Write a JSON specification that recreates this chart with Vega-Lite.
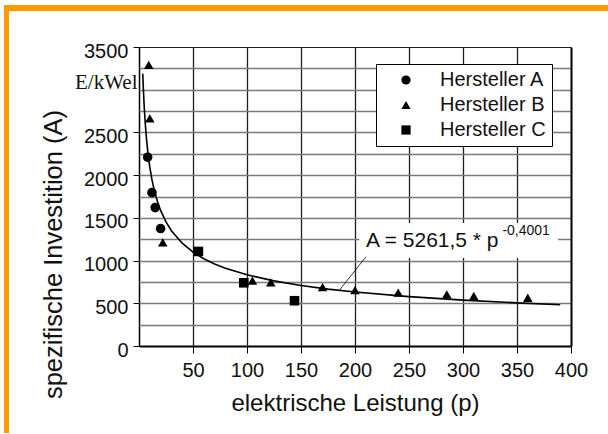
{
  "$schema": "https://vega.github.io/schema/vega-lite/v6.json",
  "padding": {"left": 4, "top": 5, "right": 0, "bottom": 0},
  "background": "white",
  "spacing": 0,
  "bounds": "flush",
  "config": {
    "view": {"stroke": null},
    "font": "Liberation Sans",
    "axis": {"labelFont": "Liberation Sans", "titleFont": "Liberation Sans", "labelColor": "#111", "titleColor": "#111", "titleFontWeight": "normal", "labelFlush": false, "labelOverlap": false, "labelBound": false, "tickColor": "#000", "domainColor": "#000", "grid": false},
    "legend": {"labelFont": "Liberation Sans"}
  },
  "datasets": {
    "punkte": [
      {"p": 8, "A": 2210, "h": "Hersteller A"},
      {"p": 12, "A": 1795, "h": "Hersteller A"},
      {"p": 15, "A": 1620, "h": "Hersteller A"},
      {"p": 20, "A": 1375, "h": "Hersteller A"},
      {"p": 9, "A": 3290, "h": "Hersteller B"},
      {"p": 10, "A": 2665, "h": "Hersteller B"},
      {"p": 22, "A": 1212, "h": "Hersteller B"},
      {"p": 105, "A": 765, "h": "Hersteller B"},
      {"p": 122, "A": 745, "h": "Hersteller B"},
      {"p": 170, "A": 690, "h": "Hersteller B"},
      {"p": 200, "A": 655, "h": "Hersteller B"},
      {"p": 240, "A": 624, "h": "Hersteller B"},
      {"p": 285, "A": 605, "h": "Hersteller B"},
      {"p": 310, "A": 585, "h": "Hersteller B"},
      {"p": 360, "A": 565, "h": "Hersteller B"},
      {"p": 55, "A": 1107, "h": "Hersteller C"},
      {"p": 97, "A": 740, "h": "Hersteller C"},
      {"p": 144, "A": 530, "h": "Hersteller C"}
    ],
    "kurve": [
      {"p": 3.5, "A": 3187}, {"p": 4, "A": 3022}, {"p": 4.5, "A": 2882}, {"p": 5, "A": 2763},
      {"p": 6, "A": 2569}, {"p": 7, "A": 2415}, {"p": 8, "A": 2290}, {"p": 9, "A": 2185},
      {"p": 10, "A": 2094}, {"p": 12, "A": 1947}, {"p": 14, "A": 1830}, {"p": 17, "A": 1694},
      {"p": 20, "A": 1587}, {"p": 25, "A": 1452}, {"p": 30, "A": 1350}, {"p": 40, "A": 1203},
      {"p": 50, "A": 1100}, {"p": 60, "A": 1022}, {"p": 70, "A": 961}, {"p": 80, "A": 911},
      {"p": 100, "A": 833}, {"p": 125, "A": 762}, {"p": 150, "A": 709}, {"p": 175, "A": 666},
      {"p": 200, "A": 632}, {"p": 250, "A": 578}, {"p": 300, "A": 537}, {"p": 350, "A": 505},
      {"p": 390, "A": 483}
    ],
    "formel": [
      {"x": 210.2, "y": 1162, "text": "A = 5261,5 * p", "teil": "basis"},
      {"x": 336.5, "y": 1300, "text": "-0,4001", "teil": "exponent"}
    ],
    "kasten": [{"x": 204, "x2": 388, "y": 1030, "y2": 1440}],
    "zeiger": [{"x": 210.2, "y": 1045, "x2": 185.5, "y2": 652}]
  },
  "vconcat": [
    {"width": 604, "height": 5, "view": {"fill": "#FF9900", "stroke": null}, "data": {"values": []}, "mark": "rect", "encoding": {}},
    {
      "hconcat": [
        {"width": 5, "height": 423, "view": {"fill": "#FF9900", "stroke": null}, "data": {"values": []}, "mark": "rect", "encoding": {}},
        {
          "vconcat": [
            {"width": 432, "height": 37, "data": {"values": []}, "mark": "rect", "encoding": {}},
            {
              "width": 432,
              "height": 299,
              "resolve": {"axis": {"x": "independent", "y": "independent"}},
              "layer": [
                {
                  "data": {"name": "kurve"},
                  "mark": {"type": "line", "color": "#000", "strokeWidth": 1.6},
                  "encoding": {
                    "x": {"field": "p", "type": "quantitative", "scale": {"domain": [0, 400], "nice": false},
                      "axis": {
                        "orient": "bottom",
                        "title": "elektrische Leistung (p)",
                        "values": [50, 100, 150, 200, 250, 300, 350, 400],
                        "labelFontSize": 20, "titleFontSize": 24,
                        "tickSize": 7, "labelPadding": 7, "tickWidth": 1,
                        "domainWidth": 2,
                        "titleY": 57, "titleBaseline": "middle"
                      }},
                    "y": {"field": "A", "type": "quantitative", "scale": {"domain": [0, 3500], "nice": false},
                      "axis": {
                        "orient": "left",
                        "title": "spezifische Investition (A)",
                        "values": [0, 500, 1000, 1500, 2000, 2500, 3000, 3500],
                        "labelExpr": "datum.value === 3000 ? 'E/kWel' : datum.label",
                        "format": "d",
                        "labelFont": {"condition": {"test": "datum.value === 3000", "value": "Liberation Serif"}, "value": "Liberation Sans"},
                        "labelFontSize": {"condition": {"test": "datum.value === 3000", "value": 21}, "value": 20},
                        "labelOffset": {"condition": {"test": "datum.value === 3000", "value": -7}, "value": 4},
                        "labelPadding": {"condition": {"test": "datum.value === 3000", "value": -4}, "value": 5},
                        "tickSize": 6,
                        "tickOpacity": {"condition": {"test": "datum.value === 3000", "value": 0}, "value": 1},
                        "domainWidth": 1.5,
                        "titleFontSize": 25.5,
                        "titleAngle": -90,
                        "titleX": -86, "titleY": 207,
                        "titleAlign": "center", "titleBaseline": "middle"
                      }}
                  }
                },
                {
                  "data": {"name": "kasten"},
                  "mark": {"type": "rect", "fill": "white", "stroke": null},
                  "encoding": {
                    "x": {"field": "x", "type": "quantitative",
                      "axis": {"orient": "top", "title": null, "labels": false,
                        "values": [50, 100, 150, 200, 250, 300, 350],
                        "tickSize": -299, "tickColor": "#1e1e1e", "tickWidth": 1.3,
                        "domainColor": "#222", "domainWidth": 1.2}},
                    "x2": {"field": "x2"},
                    "y": {"field": "y", "type": "quantitative",
                      "axis": {"orient": "right", "title": null, "labels": false,
                        "values": [250, 500, 750, 1000, 1250, 1500, 1750, 2000, 2250, 2500, 2750, 3000, 3250],
                        "tickSize": -432, "tickColor": "#7a7a7a", "tickWidth": 1.5,
                        "domainColor": "#000", "domainWidth": 2}},
                    "y2": {"field": "y2"}
                  }
                },
                {
                  "data": {"name": "punkte"},
                  "mark": {"type": "point", "filled": true, "color": "#000", "opacity": 1, "size": 92},
                  "encoding": {
                    "x": {"field": "p", "type": "quantitative", "axis": null},
                    "y": {"field": "A", "type": "quantitative", "axis": null},
                    "shape": {"field": "h", "type": "nominal",
                      "scale": {"domain": ["Hersteller A", "Hersteller B", "Hersteller C"], "range": ["circle", "triangle-up", "square"]},
                      "legend": {"title": null, "orient": "none", "legendX": 372, "legendY": 59,
                        "labelFontSize": 20, "labelColor": "#111", "symbolSize": 85, "symbolFillColor": "#000", "symbolStrokeColor": "#000",
                        "strokeColor": "#000", "fillColor": "white", "padding": 6, "symbolOffset": 14, "labelOffset": 24, "rowPadding": 5}}
                  }
                },
                {
                  "data": {"name": "zeiger"},
                  "mark": {"type": "rule", "color": "#000", "strokeWidth": 0.8},
                  "encoding": {
                    "x": {"field": "x", "type": "quantitative", "axis": null},
                    "y": {"field": "y", "type": "quantitative", "axis": null},
                    "x2": {"field": "x2"},
                    "y2": {"field": "y2"}
                  }
                },
                {
                  "data": {"name": "formel"},
                  "mark": {"type": "text", "align": "left", "baseline": "alphabetic", "color": "#111", "font": "Liberation Sans"},
                  "encoding": {
                    "x": {"field": "x", "type": "quantitative", "axis": null},
                    "y": {"field": "y", "type": "quantitative", "axis": null},
                    "text": {"field": "text"},
                    "size": {"field": "teil", "type": "nominal", "scale": {"domain": ["basis", "exponent"], "range": [21, 14]}, "legend": null}
                  }
                }
              ]
            }
          ],
          "spacing": 0,
          "bounds": "flush"
        }
      ],
      "spacing": 130,
      "bounds": "flush"
    },
    {"width": 604, "height": 1, "view": {"fill": "#FF9900", "stroke": null}, "data": {"values": []}, "mark": "rect", "encoding": {}}
  ]
}
